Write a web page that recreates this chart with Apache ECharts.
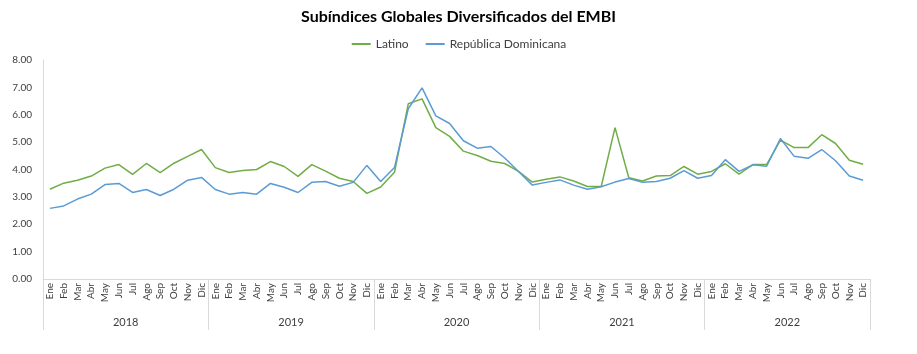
<!DOCTYPE html>
<html>
<head>
<meta charset="utf-8">
<script src="https://cdn.jsdelivr.net/npm/echarts@6/dist/echarts.min.js"></script>
<style>
  body { margin: 0; background: #fff; }
  #chart { width: 917px; height: 354px; }
</style>
</head>
<body>
<div id="chart"></div>
<script>
  // data
  var years = ['2018', '2019', '2020', '2021', '2022'];
  var months = ['Ene', 'Feb', 'Mar', 'Abr', 'May', 'Jun', 'Jul', 'Ago', 'Sep', 'Oct', 'Nov', 'Dic'];
  var yTicks = [0, 1, 2, 3, 4, 5, 6, 7, 8];

  var latino = [
    3.28, 3.50, 3.61, 3.76, 4.05, 4.18, 3.82, 4.22, 3.89, 4.23, 4.48, 4.73,
    4.07, 3.89, 3.96, 4.00, 4.29, 4.11, 3.75, 4.18, 3.94, 3.68, 3.56, 3.13,
    3.36, 3.90, 6.40, 6.58, 5.53, 5.21, 4.67, 4.51, 4.30, 4.22, 3.93, 3.54,
    3.64, 3.73, 3.58, 3.38, 3.38, 5.53, 3.70, 3.58, 3.76, 3.78, 4.11, 3.83,
    3.93, 4.21, 3.83, 4.18, 4.18, 5.07, 4.80, 4.80, 5.27, 4.95, 4.34, 4.19
  ];
  var repDom = [
    2.58, 2.67, 2.92, 3.10, 3.45, 3.49, 3.16, 3.27, 3.05, 3.28, 3.61, 3.71,
    3.27, 3.10, 3.16, 3.10, 3.49, 3.35, 3.16, 3.53, 3.56, 3.39, 3.53, 4.15,
    3.56, 4.07, 6.22, 6.98, 5.96, 5.68, 5.05, 4.78, 4.84, 4.42, 3.93, 3.43,
    3.53, 3.62, 3.43, 3.28, 3.37, 3.54, 3.67, 3.53, 3.56, 3.68, 3.96, 3.68,
    3.78, 4.36, 3.93, 4.17, 4.12, 5.13, 4.48, 4.41, 4.73, 4.32, 3.76, 3.61
  ];

  var monthCats = [];
  years.forEach(function (y) {
    months.forEach(function (m) { monthCats.push(m + ' ' + y); });
  });

  var font = 'Lato';
  var chart = echarts.init(document.getElementById('chart'));
  chart.setOption({
    animation: false,
    title: {
      text: 'Subíndices Globales Diversificados del EMBI',
      left: 'center',
      top: 4,
      textStyle: { fontFamily: font, fontSize: 16, fontWeight: 'bold', color: '#000' }
    },
    legend: {
      top: 33,
      left: 'center',
      itemWidth: 19,
      itemHeight: 1,
      itemGap: 16,
      textStyle: { fontFamily: font, fontSize: 12, color: '#404040' },
      data: ['Latino', 'República Dominicana']
    },
    grid: { left: 43, right: 47, top: 60, bottom: 75 },
    xAxis: [{
      type: 'category',
      data: monthCats,
      boundaryGap: true,
      axisLine: { lineStyle: { color: '#d9d9d9' } },
      axisTick: { show: false },
      axisLabel: {
        interval: 0,
        rotate: 90,
        margin: 4,
        fontFamily: font,
        fontSize: 10,
        color: '#404040',
        formatter: function (v) { return v.split(' ')[0]; }
      }
    }, {
      type: 'category',
      data: years,
      position: 'bottom',
      boundaryGap: true,
      axisLine: { show: false },
      axisTick: { show: true, length: 51, lineStyle: { color: '#d9d9d9' } },
      axisLabel: { margin: 38, fontFamily: font, fontSize: 11, color: '#404040' }
    }],
    yAxis: {
      type: 'value',
      min: yTicks[0],
      max: yTicks[yTicks.length - 1],
      interval: 1,
      axisLine: { show: true, lineStyle: { color: '#d9d9d9' } },
      axisTick: { show: false },
      splitLine: { show: false },
      axisLabel: {
        fontFamily: font,
        fontSize: 10,
        color: '#404040',
        margin: 11,
        formatter: function (v) { return v.toFixed(2); }
      }
    },
    series: [{
      name: 'Latino',
      type: 'line',
      data: latino,
      symbol: 'none',
      lineStyle: { color: '#70ad47', width: 1.5 },
      itemStyle: { color: '#70ad47' }
    }, {
      name: 'República Dominicana',
      type: 'line',
      data: repDom,
      symbol: 'none',
      lineStyle: { color: '#5b9bd5', width: 1.5 },
      itemStyle: { color: '#5b9bd5' }
    }]
  });
</script>
</body>
</html>
